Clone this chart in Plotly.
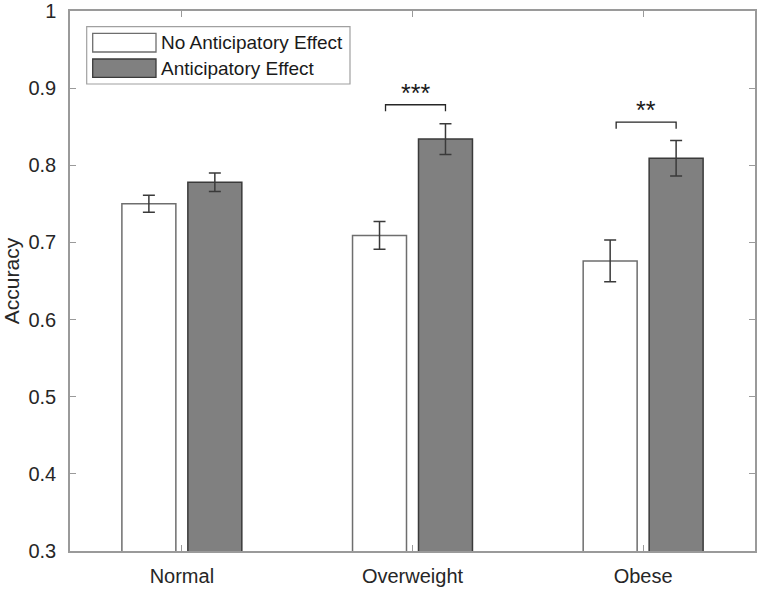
import plotly.graph_objects as go

# ---- data ----
categories = ["Normal", "Overweight", "Obese"]
series_names = ["No Anticipatory Effect", "Anticipatory Effect"]
no_anticipatory = [0.750, 0.709, 0.676]
no_anticipatory_err = [0.011, 0.018, 0.027]
anticipatory = [0.778, 0.834, 0.809]
anticipatory_err = [0.012, 0.020, 0.023]
y_ticks = [0.3, 0.4, 0.5, 0.6, 0.7, 0.8, 0.9, 1.0]
y_tick_labels = ["0.3", "0.4", "0.5", "0.6", "0.7", "0.8", "0.9", "1"]
sig_groups = ["Overweight", "Obese"]
sig_labels = ["***", "**"]
sig_bracket_y = [0.8785, 0.856]

# ---- layout constants ----
W, H = 760, 589
ML, MR, MT, MB = 70, 5, 11, 38
PW, PH = W - ML - MR, H - MT - MB
FONT = "Liberation Sans, Arial, sans-serif"
TXT = "#262626"

xpos = list(range(1, len(categories) + 1))
bar_w = 0.234
fig = go.Figure()
fig.add_trace(go.Bar(
    x=xpos, y=no_anticipatory, base=0, width=bar_w, offset=-0.26,
    name=series_names[0],
    marker=dict(color="white", line=dict(color="#6e6e6e", width=1.5)),
    error_y=dict(type="data", array=no_anticipatory_err, color="#3a3a3a", thickness=1.5, width=6),
    showlegend=False,
))
fig.add_trace(go.Bar(
    x=xpos, y=anticipatory, base=0, width=bar_w, offset=0.026,
    name=series_names[1],
    marker=dict(color="#808080", line=dict(color="#3a3a3a", width=1.5)),
    error_y=dict(type="data", array=anticipatory_err, color="#3a3a3a", thickness=1.5, width=6),
    showlegend=False,
))

# significance brackets
for g, lab, by in zip(sig_groups, sig_labels, sig_bracket_y):
    c = xpos[categories.index(g)]
    x0, x1 = c - 0.117, c + 0.143
    drop = 0.0085
    fig.add_shape(type="path", xref="x", yref="y",
                  path=f"M {x0} {by - drop} L {x0} {by} L {x1} {by} L {x1} {by - drop}",
                  line=dict(color="#262626", width=1.3))
    fig.add_annotation(x=(x0 + x1) / 2, y=by, xref="x", yref="y", text=lab,
                       showarrow=False, yanchor="bottom", yshift=-4,
                       font=dict(family=FONT, size=25, color="#1a1a1a"))

# manual legend
def px(x):
    return (x - ML) / PW
def py(y):
    return (H - MB - y) / PH

fig.add_shape(type="rect", xref="paper", yref="paper",
              x0=px(86.7), x1=px(350), y0=py(84), y1=py(26.7),
              line=dict(color="#a0a0a0", width=1.2), fillcolor="white")
fig.add_shape(type="rect", xref="paper", yref="paper",
              x0=px(92.7), x1=px(156), y0=py(52), y1=py(33.3),
              line=dict(color="#6e6e6e", width=1.3), fillcolor="white")
fig.add_shape(type="rect", xref="paper", yref="paper",
              x0=px(92.7), x1=px(156), y0=py(77.3), y1=py(59),
              line=dict(color="#3a3a3a", width=1.3), fillcolor="#808080")
for name, yc in zip(series_names, [42.7, 68.2]):
    fig.add_annotation(x=px(159), y=py(yc), xref="paper", yref="paper",
                       text=name, showarrow=False, xanchor="left", yanchor="middle",
                       font=dict(family=FONT, size=19, color="#1a1a1a"))

axis_common = dict(showline=True, linecolor="#9a9a9a", linewidth=1.5, mirror="ticks",
                   ticks="inside", ticklen=6, tickcolor="#9a9a9a", tickwidth=1.2,
                   showgrid=False, zeroline=False, automargin=False,
                   tickfont=dict(family=FONT, size=20, color=TXT))
fig.update_layout(
    width=W, height=H,
    margin=dict(l=ML, r=MR, t=MT, b=MB),
    paper_bgcolor="white", plot_bgcolor="white",
    barmode="overlay",
    xaxis=dict(range=[1 - 0.485, len(categories) + 0.485], tickvals=xpos,
               ticktext=categories, ticklabelstandoff=6, **axis_common),
    yaxis=dict(range=[0.3, 1.0], tickvals=y_ticks, ticktext=y_tick_labels,
               ticklabelstandoff=8,
               title=dict(text="Accuracy", standoff=9,
                          font=dict(family=FONT, size=21, color=TXT)),
               **axis_common),
)
fig.write_html("out.html", config={"displayModeBar": False},
               post_script="document.body.style.margin='0';")
